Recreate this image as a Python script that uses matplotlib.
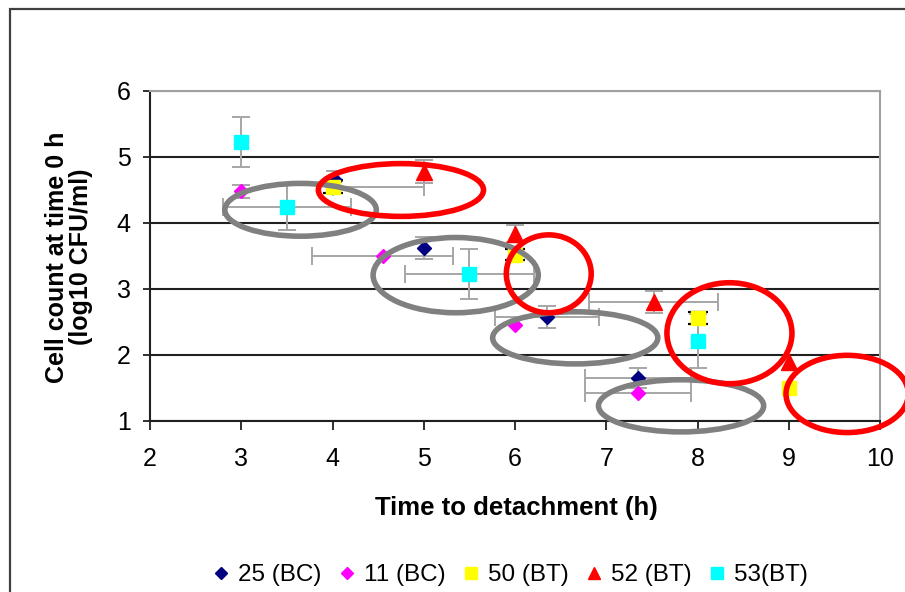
import numpy as np
import matplotlib
matplotlib.use("Agg")
import matplotlib.pyplot as plt
from matplotlib.patches import Ellipse, Rectangle
from matplotlib.lines import Line2D

plt.rcParams['font.family'] = ['Liberation Sans', 'DejaVu Sans']

nan = np.nan

# Strain 25 (BC)
s25_x = [4.03, 5.0, 6.35, 7.35]
s25_y = [4.65, 3.62, 2.58, 1.65]
s25_xerr = [nan, nan, 0.57, 0.58]
s25_yerr = [0.14, 0.17, 0.17, 0.15]

# Strain 11 (BC)
s11_x = [3.0, 4.55, 6.0, 7.35]
s11_y = [4.48, 3.50, 2.45, 1.42]
s11_xerr = [nan, 0.77, nan, 0.58]
s11_yerr = [0.10, nan, nan, nan]

# Strain 50 (BT)
s50_x = [4.0, 6.0, 8.0, 9.0]
s50_y = [4.55, 3.52, 2.56, 1.50]
s50_xerr_lo = [0.0, nan, nan, nan]
s50_xerr_hi = [1.0, nan, nan, nan]
s50_yerr = [0.10, 0.08, 0.09, nan]

# Strain 52 (BT)
s52_x = [5.0, 6.0, 7.52, 9.0]
s52_y = [4.78, 3.84, 2.80, 1.90]
s52_xerr = [nan, nan, 0.71, nan]
s52_yerr = [0.18, 0.13, 0.17, nan]

# Strain 53 (BT)
s53_x = [3.0, 3.5, 5.5, 8.0]
s53_y = [5.23, 4.24, 3.23, 2.21]
s53_xerr = [nan, 0.70, 0.71, nan]
s53_yerr = [0.38, 0.35, 0.38, 0.41]

labels = ['25 (BC)', '11 (BC)', '50 (BT)', '52 (BT)', '53(BT)']
colors = ['#000080', '#ff00ff', '#ffff00', '#ff0000', '#00ffff']
markers = ['D', 'D', 's', '^', 's']
msizes = [7.5, 7.5, 9.5, 11, 9.5]

# Highlight ellipses: (centre x, centre y, width, height) in data units
grey_rings = [(3.65, 4.20, 1.66, 0.80),
              (5.35, 3.21, 1.81, 1.14),
              (6.66, 2.26, 1.81, 0.79),
              (7.82, 1.23, 1.81, 0.79)]
red_rings = [(4.75, 4.50, 1.81, 0.80),
             (6.37, 3.23, 0.93, 1.18),
             (8.35, 2.33, 1.37, 1.53),
             (9.64, 1.41, 1.34, 1.17)]

fig = plt.figure(figsize=(9.05, 5.92), dpi=100)
ax = fig.add_axes([150/905, 1-421/592, 730/905, 330/592])

ERR = '#a6a6a6'
err_kw = dict(ecolor=ERR, elinewidth=1.4, capsize=6.5, capthick=1.4)

def series(x, y, xerr, yerr, i):
    ax.errorbar(x, y, xerr=xerr, yerr=yerr, marker=markers[i], ms=msizes[i],
                color=colors[i], mec=colors[i], linestyle='none', zorder=4, **err_kw)

series(s25_x, s25_y, s25_xerr, s25_yerr, 0)
series(s11_x, s11_y, s11_xerr, s11_yerr, 1)
# strain 50: grey horizontal bar, black vertical bars
ax.errorbar(s50_x, s50_y, xerr=[s50_xerr_lo, s50_xerr_hi], fmt='none', zorder=4, **err_kw)
ax.errorbar(s50_x, s50_y, yerr=s50_yerr, marker=markers[2], ms=msizes[2],
            color=colors[2], mec=colors[2], ecolor='black', elinewidth=1.4,
            capsize=7, capthick=1.6, linestyle='none', zorder=4)
series(s52_x, s52_y, s52_xerr, s52_yerr, 3)
series(s53_x, s53_y, s53_xerr, s53_yerr, 4)

for cx, cy, w, h in grey_rings:
    ax.add_patch(Ellipse((cx, cy), w, h, fill=False, ec='#808080', lw=4.0,
                         zorder=6, clip_on=False))
for cx, cy, w, h in red_rings:
    ax.add_patch(Ellipse((cx, cy), w, h, fill=False, ec='#ff0000', lw=4.0,
                         zorder=7, clip_on=False))

ax.set_xlim(2, 10)
ax.set_ylim(1, 6)
ax.set_xticks(range(2, 11))
ax.set_yticks(range(1, 7))
ax.yaxis.grid(True, color='#202020', lw=1.5)
ax.set_axisbelow(True)
for side in ('top', 'right'):
    ax.spines[side].set_color('#a0a0a0')
    ax.spines[side].set_linewidth(1.5)
for side in ('left', 'bottom'):
    ax.spines[side].set_color('#202020')
    ax.spines[side].set_linewidth(1.5)
ax.tick_params(axis='x', direction='out', length=6.5, width=1.3, pad=12,
               labelsize=18, colors='#202020', labelcolor='black')
ax.tick_params(axis='y', direction='out', length=5, width=1.3, pad=9,
               labelsize=18, colors='#202020', labelcolor='black')

fig.text(516/905, 1-508/592, 'Time to detachment (h)', ha='center', va='center',
         fontsize=18.5, fontweight='bold')
fig.text(69/905, 1-257/592, 'Cell count at time 0 h\n(log10 CFU/ml)', ha='center',
         va='center', rotation=90, fontsize=18, fontweight='bold', linespacing=1.05)

handles = [Line2D([], [], marker=m, ms=s * 0.85, color=c, mec=c, linestyle='none')
           for m, s, c in zip(markers, msizes, colors)]
fig.legend(handles, labels, loc='center', bbox_to_anchor=(511/905, 1-575/592), ncol=5,
           frameon=False, fontsize=17.5, handlelength=0.6, handletextpad=0.4,
           columnspacing=0.75, borderaxespad=0)

# outer chart frame
fig.add_artist(Rectangle((10/905, -0.5), 2.0, 0.5 + (1-9/592), transform=fig.transFigure,
                         fill=False, ec='#404040', lw=1.6))

fig.savefig('out.png', dpi=100)
